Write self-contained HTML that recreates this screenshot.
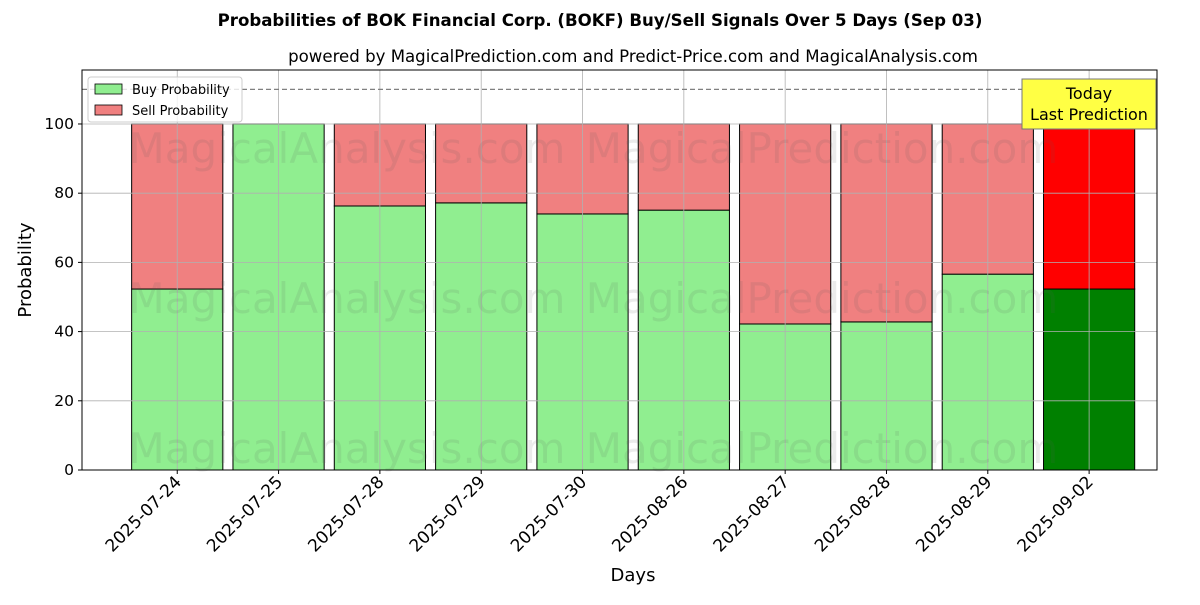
<!DOCTYPE html>
<html><head><meta charset="utf-8"><style>
body{margin:0;background:#fff;}
svg text{font-family:"DejaVu Sans","Liberation Sans",sans-serif;}
</style></head><body>
<svg id="c" width="1200" height="600" xmlns="http://www.w3.org/2000/svg">
<text x="600" y="26" text-anchor="middle" font-size="16.6" font-weight="bold">Probabilities of BOK Financial Corp. (BOKF) Buy/Sell Signals Over 5 Days (Sep 03)</text>
<text x="633" y="62" text-anchor="middle" font-size="16.6">powered by MagicalPrediction.com and Predict-Price.com and MagicalAnalysis.com</text>
<g id="bars"></g>
<g id="grid"></g>
<g id="wm" font-size="42" fill="#5a5a5a" fill-opacity="0.12" text-anchor="middle">
<text x="347" y="163">MagicalAnalysis.com</text>
<text x="822" y="163">MagicalPrediction.com</text>
<text x="347" y="313">MagicalAnalysis.com</text>
<text x="822" y="313">MagicalPrediction.com</text>
<text x="347" y="463">MagicalAnalysis.com</text>
<text x="822" y="463">MagicalPrediction.com</text>
</g>
<line x1="82" x2="1157" y1="89.4" y2="89.4" stroke="#808080" stroke-width="1.2" stroke-dasharray="5,3"/>
<rect x="82" y="70" width="1075" height="400" fill="none" stroke="#000" stroke-width="1"/>
<g id="axes" font-size="15.5"></g>
<text x="633" y="581" text-anchor="middle" font-size="18">Days</text>
<text transform="translate(31,270) rotate(-90)" text-anchor="middle" font-size="18">Probability</text>
<g>
<rect x="88" y="77" width="154" height="45" rx="3" fill="#fff" fill-opacity="0.8" stroke="#ccc"/>
<rect x="95" y="84" width="27" height="10" fill="#90ee90" stroke="#000" stroke-width="0.8"/>
<text x="132" y="94" font-size="13">Buy Probability</text>
<rect x="95" y="105" width="27" height="10" fill="#f08080" stroke="#000" stroke-width="0.8"/>
<text x="132" y="115" font-size="13">Sell Probability</text>
</g>
<g>
<rect x="1022" y="79" width="134" height="50" fill="#ffff44" stroke="#777" stroke-width="1"/>
<text x="1089" y="99" text-anchor="middle" font-size="16">Today</text>
<text x="1089" y="120" text-anchor="middle" font-size="16">Last Prediction</text>
</g>
</svg>
<script>
const categories=["2025-07-24","2025-07-25","2025-07-28","2025-07-29","2025-07-30","2025-08-26","2025-08-27","2025-08-28","2025-08-29","2025-09-02"];
const buyValues=[52.3,100,76.3,77.2,74.0,75.1,42.2,42.8,56.6,52.3];
const sellValues=buyValues.map(v=>100-v);
const yTicks=[0,20,40,60,80,100];
const NS="http://www.w3.org/2000/svg";
const L=82,R=1157,T=70,B=470,xMin=-0.94,xMax=9.67,yMin=0,yMax=115.6;
const xs=i=>L+(i-xMin)/(xMax-xMin)*(R-L);
const ys=v=>B-(v-yMin)/(yMax-yMin)*(B-T);
const bw=0.9*(R-L)/(xMax-xMin);
function mk(tag,at,parent){const e=document.createElementNS(NS,tag);for(const k in at)e.setAttribute(k,at[k]);parent.appendChild(e);return e;}
const grid=document.getElementById('grid'),bars=document.getElementById('bars'),axes=document.getElementById('axes');
yTicks.forEach(t=>{
 const g=mk('line',{x1:L,x2:R,y1:ys(t),y2:ys(t),stroke:'#b0b0b0','stroke-width':0.8},grid);
 
 
 const tk=mk('line',{x1:L-4,x2:L,y1:ys(t),y2:ys(t),stroke:'#000'},axes);
 
 
 const tx=mk('text',{x:L-8,y:ys(t)+5,'text-anchor':'end'},axes);tx.textContent=t;
 
 
});
categories.forEach((c,i)=>{
 const x=xs(i);
 const g=mk('line',{x1:x,x2:x,y1:T,y2:B,stroke:'#b0b0b0','stroke-width':0.8},grid);
 
 
 const last=i===categories.length-1;
 const b=mk('rect',{x:x-bw/2,y:ys(buyValues[i]),width:bw,height:ys(0)-ys(buyValues[i]),fill:last?'#008000':'#90ee90',stroke:'#000','stroke-width':1},bars);
 
 
 const s=mk('rect',{x:x-bw/2,y:ys(buyValues[i]+sellValues[i]),width:bw,height:ys(buyValues[i])-ys(buyValues[i]+sellValues[i]),fill:last?'#ff0000':'#f08080',stroke:'#000','stroke-width':1},bars);
 
 
 const tk=mk('line',{x1:x,x2:x,y1:B,y2:B+4,stroke:'#000'},axes);
 
 
 const tx=mk('text',{x:x+5,y:B+13,'text-anchor':'end','font-size':17,transform:`rotate(-45 ${x+5} ${B+13})`},axes);tx.textContent=c;
 
 
});
</script>
</body></html>
